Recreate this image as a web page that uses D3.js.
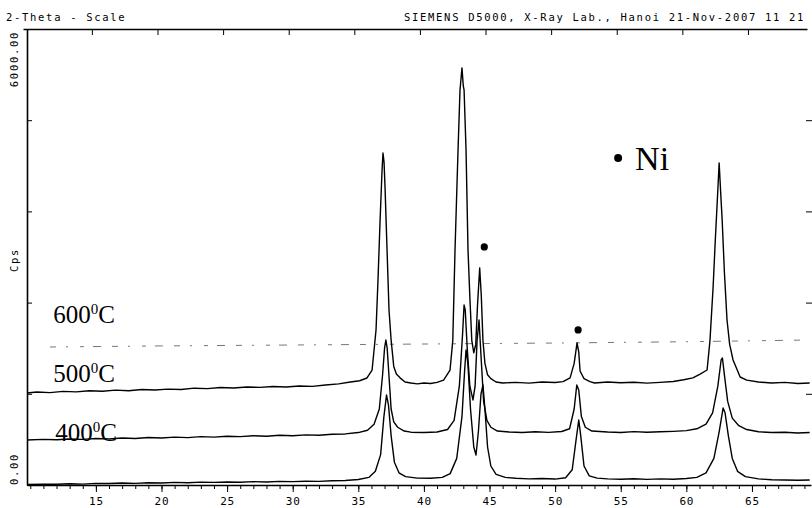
<!DOCTYPE html>
<html lang="en">
<head>
<meta charset="UTF-8">
<title>XRD Ni</title>
<script src="https://d3js.org/d3.v7.min.js"></script>
<style>
  body { margin: 0; background: #fff; }
  .hdr { font-family: "DejaVu Sans Mono", monospace; font-size: 10.5px; letter-spacing: 1.7px; fill: #000; }
  .axis text { font-family: "DejaVu Sans Mono", monospace; font-size: 11px; letter-spacing: 0.8px; fill: #000; }
  .axis path, .axis line { stroke: #000; }
  .axis path { stroke-width: 1.6; }
  .trace { fill: none; stroke: #000; stroke-width: 1.4; stroke-linejoin: round; }
  .temp { font-family: "Liberation Serif", serif; font-size: 25px; fill: #000; }
</style>
</head>
<body>
<script>
    const width  = 812;
    const height = 508;

    // tick values
    const xTicks = [15, 20, 25, 30, 35, 40, 45, 50, 55, 60, 65];
    const xMinor = d3.range(10, 70, 1);
    const yTicks = [0, 1200, 2400, 3600, 4800, 6000];

    // [2-theta, cps]
    const trace500 = [
        [9.75,1211],[10.5,1224],[11.5,1216],[12.5,1232],[13.5,1225],[14.5,1240],[15.5,1233],[16.5,1248],
        [17.5,1240],[18.5,1257],[19.5,1250],[20.5,1262],[21.5,1256],[22.5,1274],[23.5,1268],[24.5,1283],
        [25.5,1276],[26.5,1290],[27.5,1284],[28.5,1296],[29.5,1290],[30.5,1303],[31.5,1298],[32.5,1316],
        [33.5,1330],[34.4,1355],[35.1,1372],[35.66,1408],[36.05,1513],[36.35,2040],[36.5,2698],[36.66,3487],
        [36.81,4145],[36.88,4369],[36.96,4250],[37.04,3900],[37.19,3093],[37.34,2300],[37.5,1908],[37.7,1560],
        [37.9,1460],[38.18,1410],[38.56,1355],[39,1342],[39.5,1330],[40,1342],[40.5,1336],[41,1350],
        [41.5,1380],[41.99,1513],[42.2,1900],[42.37,3093],[42.6,4409],[42.75,5198],[42.9,5488],[43.0,5250],
        [43.06,5198],[43.21,4409],[43.36,3093],[43.51,2435],[43.65,1900],[43.8,1740],[43.95,1850],[44.08,2350],
        [44.25,2856],[44.37,2500],[44.5,1900],[44.65,1600],[44.85,1450],[45.1,1400],[45.5,1355],[46,1342],
        [47,1350],[48,1340],[49,1355],[50,1348],[50.6,1360],[51.14,1410],[51.45,1600],[51.67,1869],
        [51.8,1750],[51.9,1500],[52.2,1400],[52.66,1360],[53,1342],[54,1355],[55,1346],[56,1352],
        [57,1340],[58,1350],[59,1362],[59.8,1385],[60.5,1410],[61.05,1460],[61.58,1513],[61.8,1900],
        [62.04,2606],[62.2,3200],[62.35,3711],[62.5,4238],[62.6,3900],[62.73,3487],[62.9,2800],[63.1,2171],
        [63.3,1850],[63.56,1645],[64.1,1421],[64.6,1380],[65.5,1355],[66.5,1342],[67.5,1350],[68.5,1336],
        [69.4,1342]
    ];

    const trace400 = [
        [9.75,592],[11,600],[12,595],[13,606],[14,600],[15,612],[16,605],[17,618],[18,612],[19,625],
        [20,618],[21,630],[22,624],[23,636],[24,630],[25,642],[26,636],[27,648],[28,642],[29,655],
        [30,648],[31,660],[32,655],[33,668],[34,672],[35,690],[35.7,720],[36.2,800],[36.6,1000],[36.85,1450],
        [37.0,1800],[37.1,1908],[37.2,1800],[37.35,1400],[37.5,1000],[37.7,830],[38,760],[38.5,710],
        [39,695],[40,690],[41,697],[41.8,730],[42.3,850],[42.7,1300],[42.95,2000],[43.06,2369],
        [43.15,2300],[43.3,1800],[43.5,1300],[43.74,1119],[43.9,1300],[44.05,1900],[44.2,2171],[44.35,1700],
        [44.55,1100],[44.8,850],[45.1,760],[45.6,710],[46.5,697],[47.5,690],[48.5,700],[49.5,692],
        [50.5,704],[51.1,740],[51.45,1000],[51.65,1316],[51.8,1250],[52.0,900],[52.3,760],[52.8,710],
        [54,697],[55,690],[56,702],[57,694],[58,700],[59,706],[60,715],[60.8,740],[61.5,800],[62,950],
        [62.4,1300],[62.65,1645],[62.75,1671],[62.9,1450],[63.15,1100],[63.5,880],[64,780],[64.6,730],
        [65.5,700],[66.5,690],[67.5,695],[68.5,684],[69.4,690]
    ];

    const traceLow = [
        [9.75,8],[11,12],[12,10],[13,16],[14,12],[15,22],[16,20],[17,26],[18,22],[19,30],[20,26],
        [21,34],[22,30],[23,38],[24,34],[25,40],[26,36],[27,44],[28,40],[29,48],[30,44],[31,50],
        [32,48],[33,56],[34,60],[35,72],[35.8,100],[36.3,180],[36.7,400],[36.95,900],[37.15,1184],
        [37.3,1050],[37.5,650],[37.75,300],[38.1,160],[38.6,110],[39.5,90],[40.5,88],[41.4,100],
        [42,150],[42.5,350],[42.9,900],[43.1,1500],[43.21,1777],[43.35,1600],[43.55,1000],[43.8,500],
        [43.97,395],[44.15,700],[44.35,1200],[44.5,1316],[44.65,1000],[44.85,500],[45.1,250],[45.5,140],
        [46.2,100],[47,88],[48,80],[49,85],[50,78],[50.8,95],[51.3,200],[51.6,600],[51.8,855],
        [51.95,650],[52.2,250],[52.6,120],[53.2,90],[54,80],[55,75],[56,82],[57,74],[58,80],[59,76],
        [60,85],[60.8,100],[61.5,160],[62.1,350],[62.5,700],[62.8,1013],[62.95,950],[63.2,650],
        [63.5,350],[63.9,180],[64.5,110],[65.5,80],[66.5,70],[67.5,66],[68.5,62],[69.4,66]
    ];

    // faint 600 C trace, only the baseline survives in the print
    const trace600 = [
        [11.5,1816],[20,1830],[30,1842],[40,1855],[50,1868],[60,1885],[69.4,1908]
    ];

    const tempLabels = [
        {text: "600", x: 11.75, y: 2132},
        {text: "500", x: 11.75, y: 1355},
        {text: "400", x: 11.9,  y: 579}
    ];

    // Ni reflections
    const niMarks = [[44.6, 3132], [51.75, 2040]];
    const niLegend = [54.8, 4303];

    const x = d3.scaleLinear().domain([9.75, 69.5]).range([27, 811]);
    const y = d3.scaleLinear().domain([0, 6000]).range([485, 29]);

    const svg = d3.select("body").append("svg").attr("width", width).attr("height", height);

    // header texts
    svg.append("text").attr("class", "hdr").attr("x", 6).attr("y", 21).text("2-Theta - Scale");
    svg.append("text").attr("class", "hdr").attr("x", 404).attr("y", 21)
        .text("SIEMENS D5000, X-Ray Lab., Hanoi 21-Nov-2007 11 21");

    // bottom axis
    svg.append("g").attr("class", "axis")
        .attr("transform", "translate(0," + y(0) + ")")
        .call(d3.axisBottom(x).tickValues(xMinor).tickSize(4).tickSizeOuter(0).tickFormat(""));
    svg.append("g").attr("class", "axis")
        .attr("transform", "translate(0," + y(0) + ")")
        .call(d3.axisBottom(x).tickValues(xTicks).tickSize(7).tickSizeOuter(0).tickPadding(5))
        .call(g => g.select(".domain").remove());

    // top axis (scan is slightly skewed)
    svg.append("g").attr("class", "axis")
        .attr("transform", "translate(-4," + y(6000) + ")")
        .call(d3.axisBottom(x).tickValues(xTicks).tickSize(6).tickSizeOuter(0).tickFormat(""));

    // left axis
    svg.append("g").attr("class", "axis")
        .attr("transform", "translate(" + x(9.75) + ",0)")
        .call(d3.axisRight(y).tickValues(yTicks).tickSize(5).tickSizeOuter(0).tickFormat(""));

    // right ticks
    svg.append("g").attr("class", "axis")
        .attr("transform", "translate(812,0)")
        .call(d3.axisLeft(y).tickValues(yTicks.slice(1, 5)).tickSize(6).tickSizeOuter(0).tickFormat(""))
        .call(g => g.select(".domain").remove());

    // y labels, rotated
    svg.append("text").attr("class", "hdr")
        .attr("transform", "translate(18," + (y(6000) + 2) + ") rotate(-90)")
        .attr("text-anchor", "end").text("6000.00");
    svg.append("text").attr("class", "hdr")
        .attr("transform", "translate(18," + y(0) + ") rotate(-90)")
        .text("0.00");
    svg.append("text").attr("class", "hdr")
        .attr("transform", "translate(18,260) rotate(-90)")
        .attr("text-anchor", "middle").text("Cps");

    const line = d3.line().x(d => x(d[0])).y(d => y(d[1]));

    svg.append("path").attr("class", "trace")
        .attr("d", line(trace600))
        .style("stroke", "#777").style("stroke-width", 1)
        .attr("stroke-dasharray", "6,10,2,12,4,9,8,11");

    [traceLow, trace400, trace500].forEach(t => {
        svg.append("path").attr("class", "trace").attr("d", line(t));
    });

    // temperature labels
    tempLabels.forEach(l => {
        const t = svg.append("text").attr("class", "temp").attr("x", x(l.x)).attr("y", y(l.y));
        t.append("tspan").text(l.text);
        t.append("tspan").attr("dy", -9).style("font-size", "15px").text("0");
        t.append("tspan").attr("dy", 9).text("C");
    });

    // Ni markers
    svg.selectAll("circle.ni").data(niMarks).join("circle")
        .attr("class", "ni")
        .attr("cx", d => x(d[0])).attr("cy", d => y(d[1])).attr("r", 3.6);

    svg.append("circle").attr("cx", x(niLegend[0])).attr("cy", y(niLegend[1])).attr("r", 4);
    svg.append("text").attr("class", "temp").style("font-size", "34px")
        .attr("x", x(niLegend[0]) + 17).attr("y", y(niLegend[1]) + 12)
        .text("Ni");
</script>
</body>
</html>
